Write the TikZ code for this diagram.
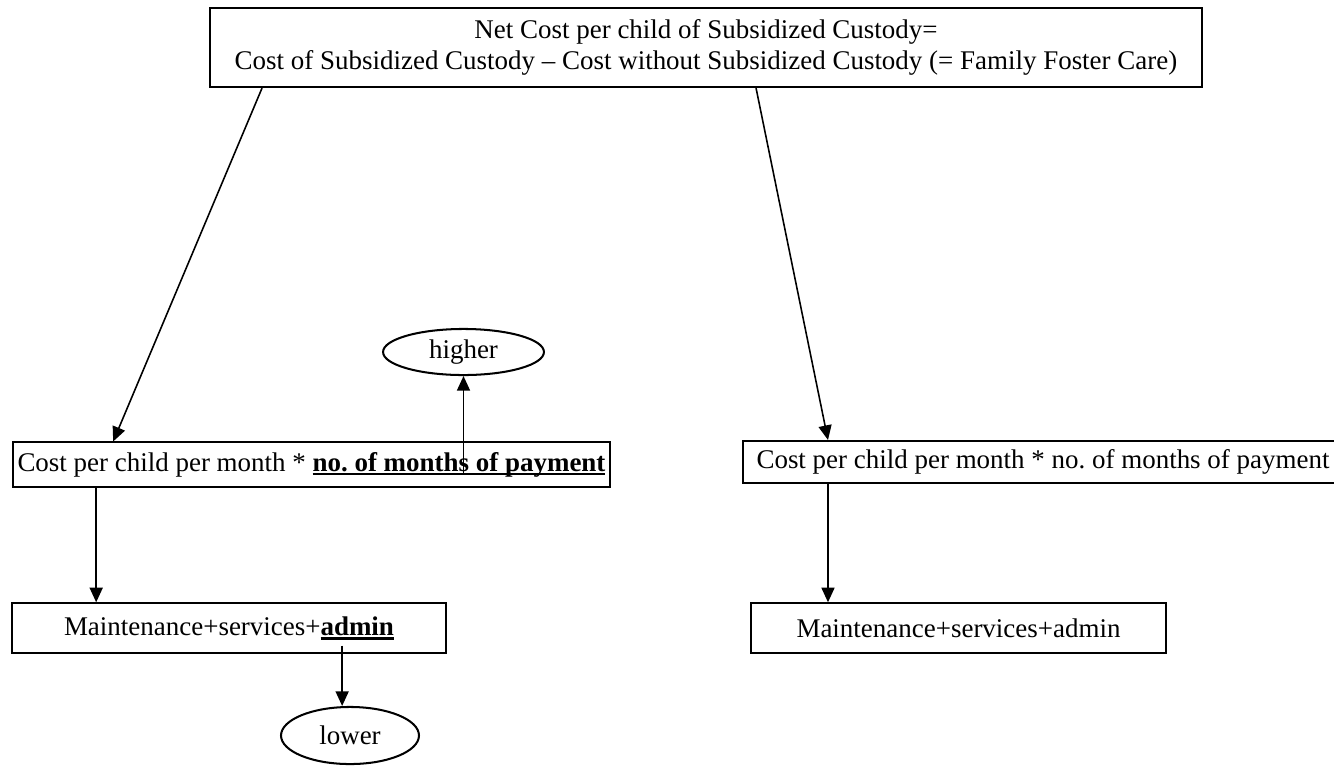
\documentclass[tikz,border=0pt]{standalone}
\usepackage{fontspec}
\setmainfont{Liberation Serif}
\usetikzlibrary{arrows.meta,positioning,calc,shapes.geometric}
\newcommand{\ubold}[1]{\setbox0\hbox{\textbf{#1}}\rlap{\rule[-1.9pt]{\wd0}{0.9pt}}\box0}
\tikzset{
  box/.style={draw,line width=0.9pt,inner sep=0pt,align=center,font=\fontsize{12}{13.6}\selectfont},
  oval/.style={draw,ellipse,line width=0.9pt,inner sep=0pt,font=\fontsize{12}{13.6}\selectfont},
  arr/.style={line width=0.7pt,-{Triangle[length=6.5pt,width=5.8pt]}}
}

\begin{document}
\frenchspacing
\begin{tikzpicture}[x=0.445pt,y=-0.445pt]
  \useasboundingbox (0,0) rectangle (1334,765);
  % boxes
  \node[box,minimum width=441.4pt,minimum height=35.2pt] (net) at (706,47.5)
    {Net Cost per child of Subsidized Custody=\\
     Cost of Subsidized Custody -- Cost without Subsidized Custody (= Family Foster Care)};
  \node[box,minimum width=265.5pt,minimum height=19.6pt] (costL) at (311.5,464.5)
    {Cost per child per month * \ubold{no. of months of payment}};
  \node[box,minimum width=267pt,minimum height=18.7pt] (costR) at (1043,462)
    {Cost per child per month * no. of months of payment};
  \node[box,minimum width=193pt,minimum height=22pt] (maintL) at (229,628)
    {Maintenance+services+\ubold{admin}};
  \node[box,minimum width=184.7pt,minimum height=22pt] (maintR) at (958.5,628)
    {Maintenance+services+admin};
  % ovals
  \node[oval,minimum width=71.6pt,minimum height=20.5pt] (higher) at (463.5,352) {higher};
  \node[oval,minimum width=61.4pt,minimum height=25.4pt] (lower) at (350,735.5) {lower};
  % connectors
  \draw[arr] ($(net.south west)+(53,0)$) -- ($(costL.north west)+(101,0)$);
  \draw[arr] ($(net.south west)+(547,0)$) -- ($(costR.north west)+(86,0)$);
  \draw[arr] ($(costL.south west)+(84,0)$) coordinate (dl) -- (dl |- maintL.north);
  \draw[arr] ($(costL.center -| higher.south)+(0,9)$) -- (higher.south);
  \draw[arr] ($(maintL.south west)+(331,-8)$) coordinate (dm) -- (dm |- lower.north);
  \draw[arr] ($(costR.south west)+(86,0)$) coordinate (dr) -- (dr |- maintR.north);
\end{tikzpicture}
\end{document}
